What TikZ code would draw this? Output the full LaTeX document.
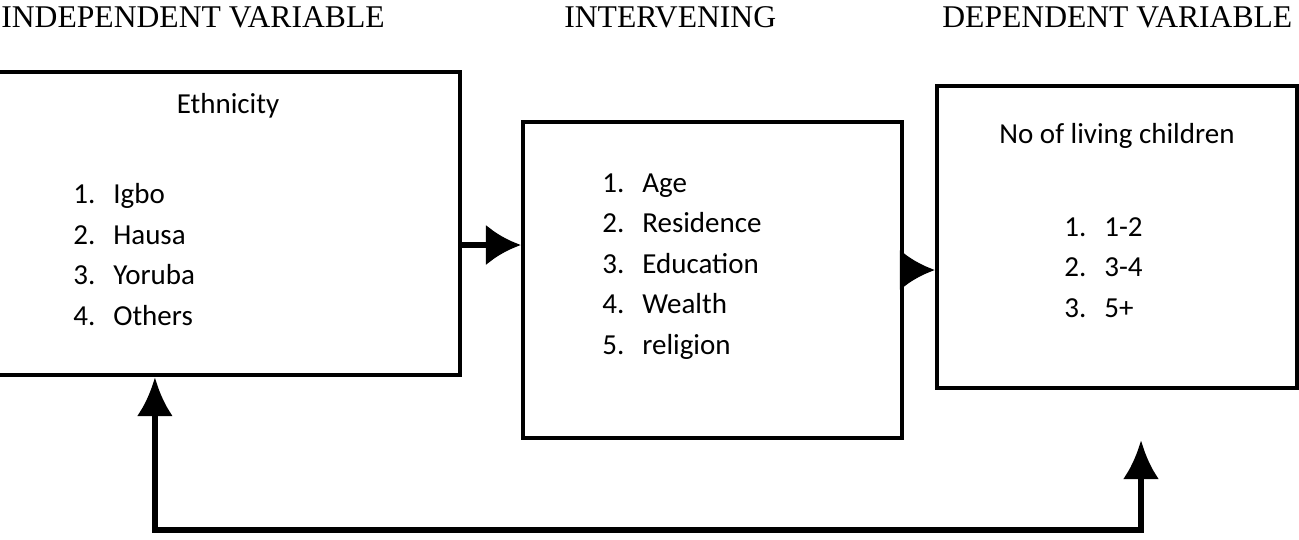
\documentclass[tikz,border=0pt]{standalone}
\usepackage{fontspec}
\setmainfont{Liberation Serif}
\newfontfamily\boxfont{Carlito}
\usetikzlibrary{arrows.meta}

\newcommand{\listnum}[1]{\makebox[0.8cm][l]{#1}}

\begin{document}
\begin{tikzpicture}[
  x=0.02cm, y=-0.02cm,
  title/.style={anchor=base west, inner sep=0pt, font=\fontsize{18}{22}\selectfont},
  var-box/.style={draw, line width=2.4pt, fill=white, inner sep=0pt},
  heading/.style={anchor=base, inner sep=0pt, font=\boxfont\fontsize{16.5}{23}\selectfont},
  item-list/.style={anchor=base west, inner sep=0pt, align=left, font=\boxfont\fontsize{16.5}{23}\selectfont},
  arrow/.style={-{Latex[length=0.7cm, width=0.82cm]}, line width=3.5pt},
  feedback/.style={{Latex[length=0.78cm, width=0.72cm]}-{Latex[length=0.78cm, width=0.72cm]}, line width=3.5pt}]

  \useasboundingbox (0,0) rectangle (1299,539);

  % column titles
  \node[title] (indep-title) at (1,27) {INDEPENDENT VARIABLE};
  \node[title] (interv-title) at (564,27) {INTERVENING};
  \node[title] (dep-title) at (942,27) {DEPENDENT VARIABLE};

  % the three boxes
  \node[var-box, minimum width=9.26cm, minimum height=6.06cm] (ethnic) at (228.5,223.5) {};
  \node[var-box, minimum width=7.58cm, minimum height=6.32cm] (interv) at (712.5,280) {};
  \node[var-box, minimum width=7.2cm, minimum height=6.04cm] (depend) at (1117,237) {};

  % box contents (lists sit on the baseline of their last line)
  \node[heading] (ethnic-head) at (228,113) {Ethnicity};
  \node[item-list] (ethnic-list) at (73,325)
    {\listnum{1.}Igbo \\ \listnum{2.}Hausa \\ \listnum{3.}Yoruba \\ \listnum{4.}Others};

  \node[item-list] (interv-list) at (602,354)
    {\listnum{1.}Age \\ \listnum{2.}Residence \\ \listnum{3.}Education \\ \listnum{4.}Wealth \\ \listnum{5.}religion};

  \node[heading] (depend-head) at (1117,143) {No of living children};
  \node[item-list] (depend-list) at (1064,317)
    {\listnum{1.}1-2 \\ \listnum{2.}3-4 \\ \listnum{3.}5+};

  % arrows between the boxes
  \draw[arrow] ([yshift=-0.43cm]ethnic.east) -- ([yshift=-0.43cm]ethnic.east -| interv.west);
  \draw[arrow] ([yshift=0.2cm]interv.east) -- ([yshift=0.2cm]interv.east -| depend.west);

  % feedback loop along the bottom
  \coordinate (fb-tip) at (1141,440);
  \draw[feedback] (fb-tip) -- ++(0,90) -| ([xshift=3.2cm]ethnic.south west);

\end{tikzpicture}
\end{document}
